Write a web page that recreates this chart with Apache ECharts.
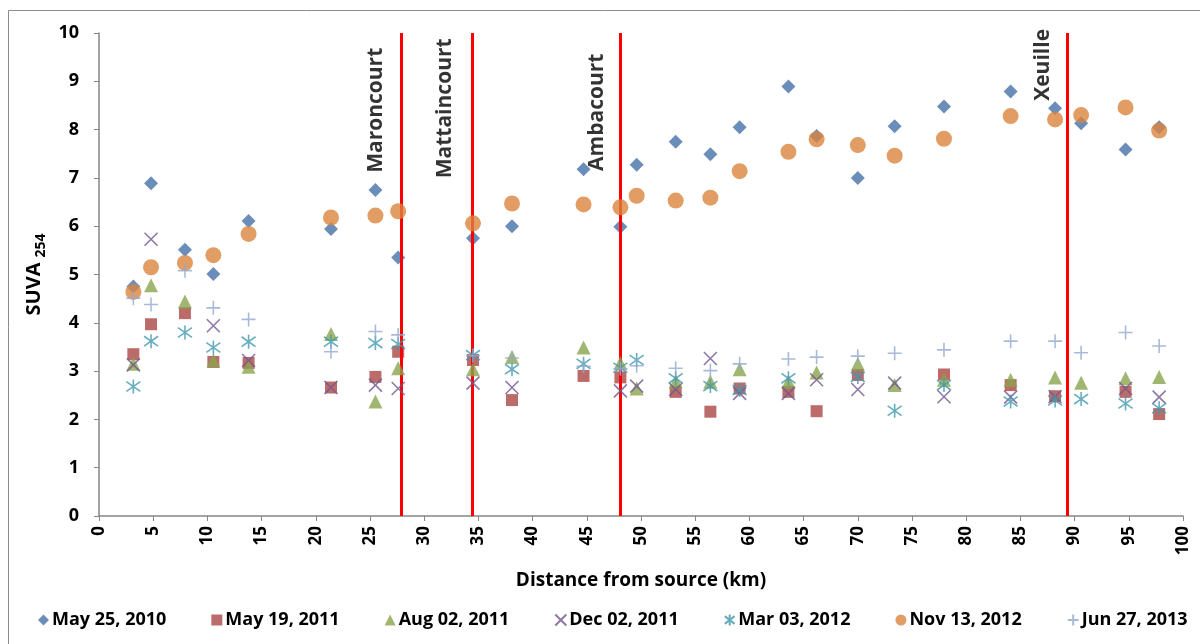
<!DOCTYPE html>
<html>
<head>
<meta charset="utf-8">
<script src="https://cdn.jsdelivr.net/npm/echarts@6/dist/echarts.min.js"></script>
<style>
html,body{margin:0;padding:0;background:#fff;}
#chart{width:1200px;height:644px;}
</style>
</head>
<body>
<div id="chart"></div>
<script>
// Sampling distances (km from source)
var distances = [3.17, 4.8, 7.93, 10.55, 13.8, 21.4, 25.5, 27.6, 34.5, 38.1, 44.7, 48.1, 49.6, 53.2, 56.4, 59.1, 63.6, 66.2, 70.0, 73.4, 77.95, 84.1, 88.2, 90.6, 94.7, 97.8];

var seriesNames = ['May 25, 2010', 'May 19, 2011', 'Aug 02, 2011', 'Dec 02, 2011', 'Mar 03, 2012', 'Nov 13, 2012', 'Jun 27, 2013'];

var may2010 = [4.75, 6.89, 5.51, 5.01, 6.11, 5.94, 6.75, 5.35, 5.75, 6.00, 7.18, 5.99, 7.27, 7.75, 7.49, 8.05, 8.89, 7.87, 7.00, 8.07, 8.48, 8.79, 8.44, 8.13, 7.59, 8.05];
var may2011 = [3.35, 3.97, 4.20, 3.19, 3.17, 2.66, 2.88, 3.40, 3.23, 2.40, 2.90, 2.87, null, 2.57, 2.16, 2.64, 2.57, 2.17, 2.92, null, 2.93, 2.71, 2.48, null, 2.57, 2.11];
var aug2011 = [3.15, 4.78, 4.44, 3.22, 3.09, 3.77, 2.37, 3.06, 3.04, 3.29, 3.49, 3.16, 2.64, 2.78, 2.78, 3.04, 2.78, 2.97, 3.15, 2.71, 2.82, 2.82, 2.87, 2.76, 2.85, 2.88];
var dec2011 = [3.13, 5.73, null, 3.94, 3.22, 2.66, 2.71, 2.64, 2.75, 2.66, null, 2.59, 2.69, 2.62, 3.26, 2.54, 2.54, 2.82, 2.62, 2.75, 2.47, 2.46, 2.47, null, 2.64, 2.46];
var mar2012 = [2.68, 3.62, 3.80, 3.49, 3.61, 3.61, 3.58, 3.56, 3.33, 3.04, 3.15, 3.07, 3.23, 2.85, 2.69, 2.61, 2.85, null, 2.88, 2.18, 2.71, 2.37, 2.39, 2.42, 2.33, 2.23];
var nov2012 = [4.64, 5.15, 5.24, 5.40, 5.84, 6.18, 6.22, 6.31, 6.06, 6.47, 6.45, 6.39, 6.63, 6.53, 6.59, 7.14, 7.54, 7.80, 7.68, 7.46, 7.81, 8.28, 8.21, 8.30, 8.46, 7.98];
var jun2013 = [4.51, 4.38, 5.08, 4.31, 4.07, 3.40, 3.82, 3.75, 3.32, 3.27, 3.10, 3.05, 3.11, 3.06, 3.01, 3.15, 3.25, 3.29, 3.31, 3.37, 3.44, 3.62, 3.62, 3.38, 3.80, 3.52];

// Villages (red vertical lines) and their label anchors
var siteNames = ['Maroncourt', 'Mattaincourt', 'Ambacourt', 'Xeuille'];
var siteKm = [27.9, 34.4, 48.06, 89.3];
var siteLabelAt = [[25.55, 8.40], [31.92, 8.44], [45.94, 8.36], [87.08, 9.34]];

var xTicks = [0, 100, 5];
var yTicks = [0, 10, 1];

var allValues = [may2010, may2011, aug2011, dec2011, mar2012, nov2012, jun2013];
var colors = ['#4572A7', '#AA4643', '#89A54E', '#71588F', '#4198AF', '#DB843D', '#93A9CF'];
var symbols = [
  'diamond',
  'rect',
  'triangle',
  'path://M0,0 L10,10 M10,0 L0,10',
  'path://M5,0 L5,10 M0.5,1.5 L9.5,8.5 M9.5,1.5 L0.5,8.5',
  'circle',
  'path://M5,0 L5,10 M0,5 L10,5'
];
var sizes = [14, 12, 14, 13, 14, 16, 14];
var stroked = [false, false, false, true, true, false, true];

function pairs(vals) {
  var out = [];
  for (var i = 0; i < distances.length; i++) {
    if (vals[i] !== null) out.push([distances[i], vals[i]]);
  }
  return out;
}

var FONT = '"Open Sans", "Liberation Sans", sans-serif';

var series = seriesNames.map(function (n, k) {
  var st = { color: colors[k] };
  if (stroked[k]) { st.borderColor = colors[k]; st.borderWidth = 1.6; }
  return {
    name: n,
    type: 'scatter',
    data: pairs(allValues[k]),
    symbol: symbols[k],
    symbolSize: sizes[k],
    itemStyle: st,
    z: 3 + k,
    animation: false
  };
});

series.push({
  name: 'sites',
  type: 'scatter',
  silent: true,
  symbolSize: 0,
  data: siteLabelAt.map(function (p, i) { return { value: p, name: siteNames[i] }; }),
  label: {
    show: true,
    position: 'inside',
    rotate: 90,
    formatter: function (p) { return p.name; },
    color: '#000',
    fontFamily: FONT,
    fontWeight: 'bold',
    fontSize: 21
  },
  markLine: {
    silent: true,
    symbol: ['none', 'none'],
    label: { show: false },
    lineStyle: { color: '#FF0000', width: 3, type: 'solid' },
    data: siteKm.map(function (v) { return { xAxis: v }; }),
    animation: false
  },
  z: 2,
  animation: false
});

var chart = echarts.init(document.getElementById('chart'), null, { renderer: 'canvas' });
chart.setOption({
  backgroundColor: '#fff',
  animation: false,
  graphic: [{
    type: 'rect',
    shape: { x: 8.5, y: 10.5, width: 1300, height: 800 },
    style: { fill: 'none', stroke: '#8c8c8c', lineWidth: 1 },
    silent: true,
    z: -10
  }],
  grid: { left: 99, right: 17, top: 33, bottom: 128, containLabel: false },
  legend: {
    data: seriesNames,
    left: 33,
    top: 606,
    itemWidth: 11,
    itemHeight: 11,
    itemGap: 45,
    textStyle: { fontFamily: FONT, fontWeight: 'bold', fontSize: 18, color: '#000', padding: [0, 0, 0, -2] }
  },
  xAxis: {
    type: 'value',
    min: xTicks[0], max: xTicks[1], interval: xTicks[2],
    name: 'Distance from source (km)',
    nameLocation: 'middle',
    nameGap: 55,
    nameTextStyle: { fontFamily: FONT, fontWeight: 'bold', fontSize: 19, color: '#000' },
    axisLine: { lineStyle: { color: '#868686', width: 1.5 } },
    axisTick: { show: true, length: 5, lineStyle: { color: '#868686' } },
    axisLabel: { rotate: 90, margin: 10, fontFamily: FONT, fontWeight: 'bold', fontSize: 17, color: '#000' },
    splitLine: { show: false }
  },
  yAxis: {
    type: 'value',
    min: yTicks[0], max: yTicks[1], interval: yTicks[2],
    name: '{a|SUVA}{b|254}',
    nameLocation: 'middle',
    nameRotate: 90,
    nameGap: 42,
    nameTextStyle: {
      rich: {
        a: { fontFamily: FONT, fontWeight: 'bold', fontSize: 20, color: '#000', lineHeight: 22, verticalAlign: 'top' },
        b: { fontFamily: FONT, fontWeight: 'bold', fontSize: 14, color: '#000', lineHeight: 32, padding: [0, 0, 0, 5] }
      }
    },
    axisLine: { show: true, lineStyle: { color: '#868686', width: 1.5 } },
    axisTick: { show: true, length: 5, lineStyle: { color: '#868686' } },
    axisLabel: { margin: 20, fontFamily: FONT, fontWeight: 'bold', fontSize: 18, color: '#000' },
    splitLine: { show: false }
  },
  series: series
});
</script>
</body>
</html>
